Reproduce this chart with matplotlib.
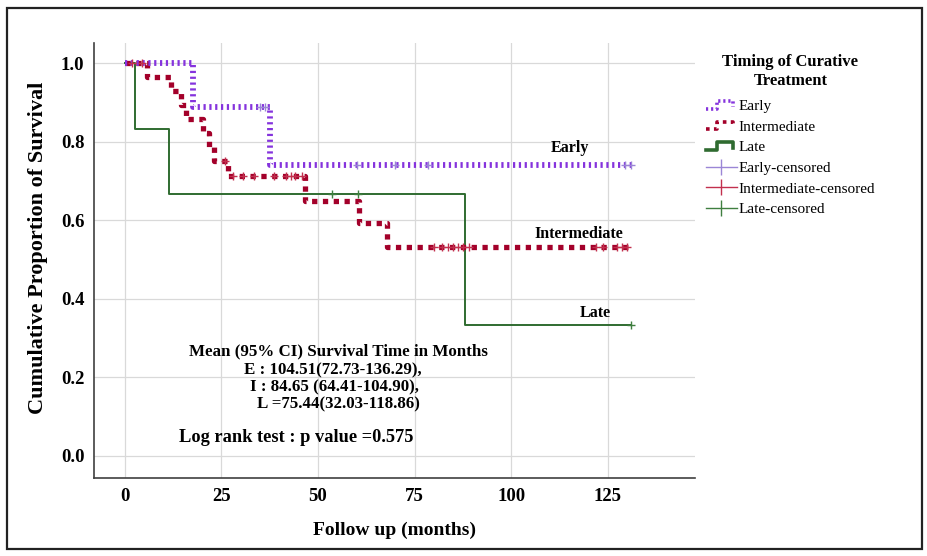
import numpy as np
import matplotlib
matplotlib.use("Agg")
import matplotlib.pyplot as plt
from matplotlib.lines import Line2D
from matplotlib.patches import Rectangle
from matplotlib.legend_handler import HandlerLine2D

plt.rcParams['font.family'] = ['Liberation Serif', 'DejaVu Serif']

# ---- data ----
early_t = [0, 17.7, 37.6, 131.0]
early_s = [1.0, 0.889, 0.741, 0.741]
early_cens = [35.1, 36.4, 60.1, 70.0, 78.6, 129.6, 131.0]

inter_t = [0, 5.7, 12.0, 14.4, 15.9, 20.3, 21.7, 23.0, 26.8, 46.7, 60.5, 67.8, 130.3]
inter_s = [1.0, 0.964, 0.929, 0.893, 0.857, 0.821, 0.786, 0.750, 0.713, 0.649, 0.594, 0.533, 0.533]
inter_cens = [1.9, 4.4, 25.8, 28.1, 30.7, 33.3, 38.5, 41.8, 43.0, 44.1, 45.8,
              80.0, 82.0, 83.7, 85.0, 86.3, 87.6, 89.0, 122.0, 123.8, 127.3, 128.6, 130.0]

late_t = [0, 2.5, 11.5, 88.1, 131.0]
late_s = [1.0, 0.833, 0.667, 0.333, 0.333]
late_cens = [53.7, 60.4, 131.0]

groups = ["Early", "Intermediate", "Late"]
x_ticks = [0, 25, 50, 75, 100, 125]
y_ticks = [0.0, 0.2, 0.4, 0.6, 0.8, 1.0]

annot_lines = ["Mean (95% CI) Survival Time in Months",
               "E : 104.51(72.73-136.29),",
               "I : 84.65 (64.41-104.90),",
               "L =75.44(32.03-118.86)"]
logrank_text = "Log rank test : p value =0.575"

c_early = "#8533DD"
c_inter = "#A3002A"
c_late = "#2F6B30"
c_early_c = "#9B86D6"
c_inter_c = "#C2304E"
c_late_c = "#3F7F40"


def surv_at(ts, ss, t):
    idx = np.searchsorted(np.asarray(ts), t, side="right") - 1
    return np.asarray(ss)[idx]


fig = plt.figure(figsize=(9.28, 5.56), dpi=100)
W, H = 928, 556
ax = fig.add_axes([94 / W, 1 - 478 / H, (695 - 94) / W, (478 - 42.7) / H])

ls_early = (0, (0.38, 0.62))
ls_inter = (0, (1.0, 1.05))

ax.plot(early_t, early_s, drawstyle="steps-post", color=c_early, lw=4.2,
        linestyle=ls_early, dash_capstyle="butt", zorder=4)
ax.plot(inter_t, inter_s, drawstyle="steps-post", color=c_inter, lw=3.8,
        linestyle=ls_inter, dash_capstyle="butt", zorder=3)
ax.plot(late_t, late_s, drawstyle="steps-post", color=c_late, lw=1.4, zorder=2)

ax.plot(early_cens, surv_at(early_t, early_s, early_cens), linestyle="none",
        marker="+", ms=6, mew=1.0, color=c_early_c, zorder=5)
ax.plot(inter_cens, surv_at(inter_t, inter_s, inter_cens), linestyle="none",
        marker="+", ms=6, mew=1.0, color=c_inter_c, zorder=5)
ax.plot(late_cens, surv_at(late_t, late_s, late_cens), linestyle="none",
        marker="+", ms=6, mew=1.0, color=c_late_c, zorder=5)

ax.set_xlim(-8.0, 147.6)
ax.set_ylim(-0.056, 1.052)
ax.set_xticks(x_ticks)
ax.set_yticks(y_ticks)
ax.set_yticklabels([f"{v:.1f}" for v in y_ticks])
ax.tick_params(length=0, labelsize=13.5, pad=7)
for lab in ax.get_xticklabels() + ax.get_yticklabels():
    lab.set_fontweight("bold")
ax.grid(True, color="#D9D9D9", lw=0.9)
ax.set_axisbelow(True)
for s in ["top", "right"]:
    ax.spines[s].set_visible(False)
for s in ["left", "bottom"]:
    ax.spines[s].set_color("#404040")
    ax.spines[s].set_linewidth(1.2)

ax.set_xlabel("Follow up (months)", fontsize=14, fontweight="bold", labelpad=12)
ax.set_ylabel("Cumulative Proportion of Survival", fontsize=16, fontweight="bold")
ax.yaxis.set_label_coords(-0.0765, 0.528)

# group labels
ax.text(115.2, 0.784, groups[0], ha="center", va="center", fontsize=11.5, fontweight="bold")
ax.text(117.5, 0.566, groups[1], ha="center", va="center", fontsize=11.5, fontweight="bold")
ax.text(121.7, 0.363, groups[2], ha="center", va="center", fontsize=11.5, fontweight="bold")

# annotation block
ann_pos = [(55.3, 0.265), (53.7, 0.219), (54.2, 0.174), (55.3, 0.131)]
for (x, y), txt in zip(ann_pos, annot_lines):
    ax.text(x, y, txt, ha="center", va="center", fontsize=12.2, fontweight="bold")
ax.text(44.4, 0.048, logrank_text, ha="center", va="center", fontsize=13.2, fontweight="bold")


class HandlerStep(HandlerLine2D):
    def create_artists(self, legend, orig_handle, xdescent, ydescent,
                       width, height, fontsize, trans):
        x0 = -xdescent
        y0 = -ydescent
        xs = x0 + width * np.array([0.0, 0.35, 0.35, 0.88, 0.88])
        ys = y0 + height * np.array([0.15, 0.15, 0.85, 0.85, 0.35])
        ln = Line2D(xs, ys)
        self.update_prop(ln, orig_handle, legend)
        ln.set_transform(trans)
        return [ln]


h_early = Line2D([], [], color=c_early, lw=2.6, linestyle=(0, (0.6, 0.8)))
h_inter = Line2D([], [], color=c_inter, lw=2.6, linestyle=(0, (1.0, 1.2)))
h_late = Line2D([], [], color=c_late, lw=2.6)
h_ec = Line2D([], [], color=c_early_c, lw=1.0, marker="|", ms=11, mew=1.0)
h_ic = Line2D([], [], color=c_inter_c, lw=1.0, marker="|", ms=11, mew=1.0)
h_lc = Line2D([], [], color=c_late_c, lw=1.0, marker="|", ms=11, mew=1.0)

labels = ["Early", "Intermediate", "Late", "Early-censored",
          "Intermediate-censored", "Late-censored"]
leg = fig.legend([h_early, h_inter, h_late, h_ec, h_ic, h_lc], labels,
                 loc="upper left", bbox_to_anchor=(700 / W, 1 - 48 / H),
                 frameon=False, fontsize=11, handlelength=2.0, handletextpad=0.1,
                 labelspacing=0.45, numpoints=1, borderaxespad=0,
                 title="Timing of Curative\nTreatment",
                 title_fontproperties={"weight": "bold", "size": 12,
                                       "family": ["Liberation Serif"]},
                 handler_map={h_early: HandlerStep(), h_inter: HandlerStep(),
                              h_late: HandlerStep()})
leg._legend_box.align = "center"
leg._legend_box.sep = 8
leg.get_title().set_multialignment("center")

# outer frame
fig.patches.append(Rectangle((7 / W, 1 - 549 / H), (922 - 7) / W, (549 - 8) / H,
                             transform=fig.transFigure, fill=False,
                             edgecolor="#222222", lw=1.6))

fig.savefig("out.png", dpi=100)
